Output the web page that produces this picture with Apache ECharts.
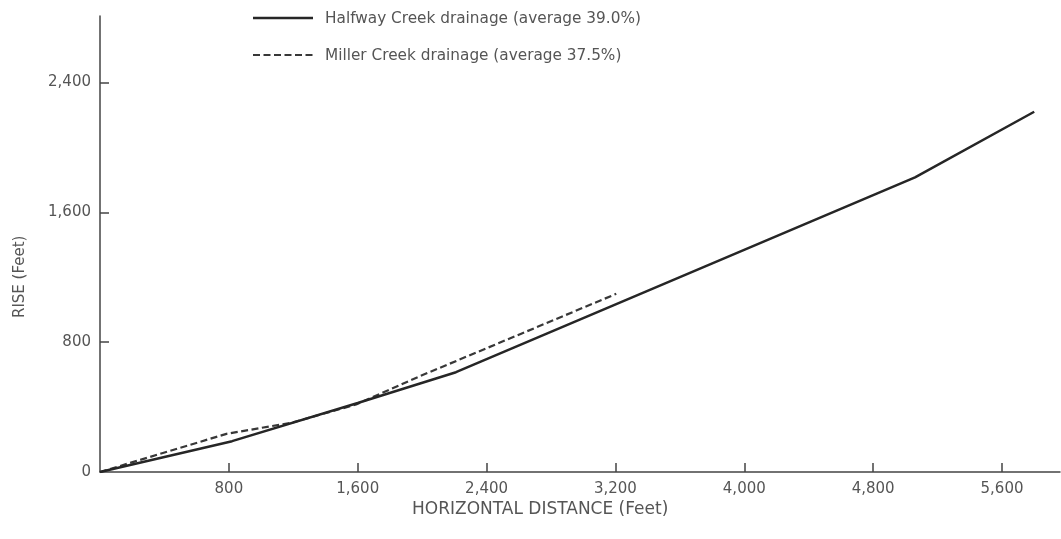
<!DOCTYPE html>
<html>
<head>
<meta charset="utf-8">
<script src="https://cdn.jsdelivr.net/npm/echarts@6/dist/echarts.min.js"></script>
<style>
  html, body { margin: 0; padding: 0; background: #fff; }
  #chart { width: 1061px; height: 539px; }
</style>
</head>
<body>
<div id="chart"></div>
<script>
// Horizontal distance (ft) and rise (ft) along each drainage profile
const halfwayX = [0, 820, 1600, 2210, 5060, 5800];
const halfwayY = [0, 190, 425, 615, 1815, 2220];
const millerX = [0, 785, 1195, 1590, 1985, 3205];
const millerY = [0, 235, 305, 416, 590, 1098];

const seriesNames = ['Halfway Creek drainage (average 39.0%)', 'Miller Creek drainage (average 37.5%)'];
const xTicks = [800, 1600, 2400, 3200, 4000, 4800, 5600];
const yTicks = [0, 800, 1600, 2400];

const xTitle = 'HORIZONTAL DISTANCE (Feet)';
const yTitle = 'RISE (Feet)';

const fmt = v => v.toLocaleString('en-US');
const pairs = (xs, ys) => xs.map((x, i) => [x, ys[i]]);

const ink = '#262626';
const dashInk = '#383838';
const textGray = '#555';
const font = '"DejaVu Sans", Verdana, sans-serif';
const solidStyle = { color: ink, width: 2.5 };
const dashStyle = { color: dashInk, width: 2.2, type: [7, 3.5] };

// Key: a line sample followed by the series name, one row per series
const keyRows = [
  { name: seriesNames[0], y: 18, line: solidStyle },
  { name: seriesNames[1], y: 55, line: dashStyle }
];
const keyGraphics = [];
keyRows.forEach(row => {
  keyGraphics.push({
    type: 'line',
    shape: { x1: 253, y1: row.y, x2: 313, y2: row.y },
    style: { stroke: row.line.color, lineWidth: row.line.width, lineDash: Array.isArray(row.line.type) ? row.line.type : null }
  });
  keyGraphics.push({
    type: 'text', x: 325, y: row.y + 1,
    style: { text: row.name, fill: textGray, font: '15.3px ' + font, textVerticalAlign: 'middle', verticalAlign: 'middle' }
  });
});

const chart = echarts.init(document.getElementById('chart'), null, { renderer: 'canvas' });
chart.setOption({
  backgroundColor: '#fff',
  animation: false,
  grid: { left: 100, right: 1, top: 16, bottom: 67, containLabel: false },
  xAxis: {
    type: 'value',
    min: 0,
    max: 5960,
    interval: 800,
    splitLine: { show: false },
    axisLine: { onZero: false, lineStyle: { color: '#444', width: 1.5 } },
    axisTick: { inside: true, length: 9, customValues: xTicks, lineStyle: { color: '#444', width: 1.5 } },
    axisLabel: { customValues: xTicks, formatter: fmt, color: textGray, fontSize: 15, fontFamily: font, margin: 10 }
  },
  yAxis: {
    type: 'value',
    min: 0,
    max: 2810,
    interval: 800,
    splitLine: { show: false },
    axisLine: { show: true, onZero: false, lineStyle: { color: '#444', width: 1.5 } },
    axisTick: { show: true, inside: true, length: 9, customValues: yTicks.filter(v => v > 0), lineStyle: { color: '#444', width: 1.5 } },
    axisLabel: { customValues: yTicks, formatter: fmt, color: textGray, fontSize: 15, fontFamily: font, margin: 9 }
  },
  graphic: keyGraphics.concat([
    {
      type: 'text', left: 412, top: 501,
      style: { text: xTitle, fill: textGray, font: '17px ' + font }
    },
    {
      type: 'text', x: 13, y: 318, rotation: Math.PI / 2,
      originX: 0, originY: 0,
      style: { text: yTitle, fill: textGray, font: '15px ' + font }
    }
  ]),
  series: [
    {
      name: seriesNames[0],
      type: 'line',
      data: pairs(halfwayX, halfwayY),
      symbol: 'none',
      lineStyle: solidStyle,
      z: 3
    },
    {
      name: seriesNames[1],
      type: 'line',
      data: pairs(millerX, millerY),
      symbol: 'none',
      lineStyle: dashStyle,
      z: 2
    }
  ]
});
</script>
</body>
</html>
